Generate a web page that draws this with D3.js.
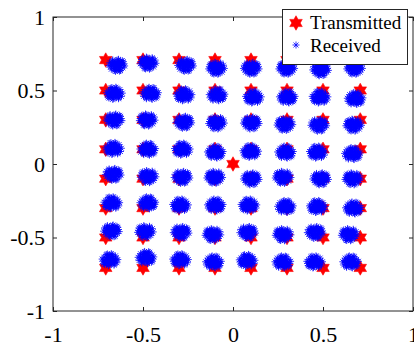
<!DOCTYPE html>
<html>
<head>
<meta charset="utf-8">
<script src="https://cdn.jsdelivr.net/npm/d3@7"></script>
<style>
  html, body { margin: 0; padding: 0; background: #fff; }
  svg { display: block; }
  text { font-family: "Liberation Serif", "Times New Roman", serif; fill: #000; }
</style>
</head>
<body>
<div id="chart"></div>
<script>
// constellation levels (transmitted grid)
const levels = [-0.707, -0.5, -0.3, -0.1, 0.1, 0.3, 0.5, 0.707];
const extraPoint = [0, 0];

// received cluster shift from each transmitted point, rows top->bottom, cols left->right
const clusterShiftX = [
  [0.060, 0.030, 0.035, 0.010, 0.000, 0.000, -0.015, -0.030],
  [0.050, 0.040, 0.030, 0.010, 0.015, 0.000, -0.015, -0.030],
  [0.045, 0.025, 0.025, 0.010, 0.000, -0.010, -0.025, -0.035],
  [0.045, 0.025, 0.020, 0.000, 0.000, -0.010, -0.030, -0.045],
  [0.040, 0.030, 0.015, 0.000, 0.000, -0.020, -0.015, -0.040],
  [0.035, 0.025, 0.010, 0.000, -0.010, -0.010, -0.030, -0.040],
  [0.030, 0.015, 0.010, -0.010, -0.020, -0.020, -0.045, -0.060],
  [0.025, 0.015, 0.010, -0.010, -0.020, -0.025, -0.045, -0.055]
];
const clusterShiftY = [
  [-0.035, -0.020, -0.035, -0.055, -0.055, -0.055, -0.065, -0.055],
  [-0.020, -0.020, -0.030, -0.030, -0.045, -0.045, -0.045, -0.055],
  [0.000, 0.000, -0.015, -0.020, -0.020, -0.030, -0.035, -0.035],
  [0.005, 0.000, 0.000, -0.020, -0.015, -0.020, -0.020, -0.030],
  [0.030, 0.015, 0.010, 0.010, 0.000, 0.010, 0.000, 0.000],
  [0.035, 0.035, 0.020, 0.020, 0.020, 0.010, 0.010, 0.000],
  [0.045, 0.040, 0.035, 0.020, 0.035, 0.020, 0.035, 0.020],
  [0.055, 0.070, 0.055, 0.040, 0.050, 0.040, 0.040, 0.040]
];

// scatter of received samples around a cluster centre
const scatter = [
  [0.000, 0.005], [0.010, -0.010], [-0.012, 0.011], [0.018, 0.003], [-0.005, -0.020],
  [0.024, -0.014], [-0.019, -0.005], [0.006, 0.022], [0.013, 0.016], [-0.008, 0.027],
  [0.030, 0.002], [-0.026, 0.014], [0.003, -0.031], [0.021, 0.025], [-0.014, -0.022],
  [0.035, -0.018], [-0.032, -0.011], [0.008, 0.036], [-0.003, 0.006], [0.014, -0.027],
  [-0.022, 0.029], [0.027, 0.018], [-0.010, -0.036], [0.040, 0.009], [-0.037, 0.020],
  [0.005, -0.011], [-0.016, 0.005], [0.019, -0.002], [0.011, 0.040], [-0.006, -0.042],
  [0.032, 0.031], [-0.029, -0.027], [0.002, 0.016], [0.022, -0.036], [-0.021, 0.036],
  [0.045, -0.005], [-0.042, -0.002], [0.016, -0.040], [-0.027, 0.003], [0.037, 0.024],
  [-0.011, -0.013], [0.026, 0.008]
];

const tickValues = [-1, -0.5, 0, 0.5, 1];
const tickLabels = ['-1', '-0.5', '0', '0.5', '1'];
const legendLabels = ['Transmitted', 'Received'];

const width = 414;
const height = 347;
const margin = { top: 17, right: 1, bottom: 36, left: 53 };

const svg = d3.select('#chart')
  .append('svg')
  .attr('width', width)
  .attr('height', height);

const x = d3.scaleLinear().domain([-1, 1]).range([margin.left, width - margin.right]);
const y = d3.scaleLinear().domain([-1, 1]).range([height - margin.bottom, margin.top]);

// hexagram marker
const hexagram = {
  draw(context, size) {
    const r = Math.sqrt(size) / 2;
    for (let k = 0; k < 12; k++) {
      const a = -Math.PI / 2 + k * Math.PI / 6;
      const rr = k % 2 === 0 ? r : r / Math.sqrt(3);
      if (k === 0) context.moveTo(rr * Math.cos(a), rr * Math.sin(a));
      else context.lineTo(rr * Math.cos(a), rr * Math.sin(a));
    }
    context.closePath();
  }
};
// matlab-like '*' marker
const asterisk = {
  draw(context, size) {
    const r = Math.sqrt(size) / 2;
    const d = r * Math.SQRT1_2;
    context.moveTo(-r, 0); context.lineTo(r, 0);
    context.moveTo(0, -r); context.lineTo(0, r);
    context.moveTo(-d, -d); context.lineTo(d, d);
    context.moveTo(-d, d); context.lineTo(d, -d);
  }
};
const starPath = d3.symbol(hexagram, 210)();
const astPath = d3.symbol(asterisk, 49)();

// data
const transmitted = [];
const received = [];
levels.slice().reverse().forEach((ly, row) => {
  levels.forEach((lx, col) => {
    transmitted.push([lx, ly]);
    const cx = lx + clusterShiftX[row][col];
    const cy = ly + clusterShiftY[row][col];
    const fx = (row + col) % 2 === 0 ? 1 : -1;
    const fy = row % 2 === 0 ? 1 : -1;
    scatter.forEach(s => received.push([cx + fx * s[0], cy + fy * s[1]]));
  });
});
transmitted.push(extraPoint);

// axes box
const axisColor = '#262626';
const plot = svg.append('g');

const axisB = d3.axisBottom(x).tickValues(tickValues).tickSize(-4).tickPadding(15)
  .tickFormat((d, i) => tickLabels[i]);
const axisL = d3.axisLeft(y).tickValues(tickValues).tickSize(-4).tickPadding(8)
  .tickFormat((d, i) => tickLabels[i]);
const axisT = d3.axisTop(x).tickValues(tickValues).tickSize(-4).tickFormat('');
const axisR = d3.axisRight(y).tickValues(tickValues).tickSize(-4).tickFormat('');

function styleAxis(g) {
  g.select('.domain').remove();
  g.selectAll('line').attr('stroke', axisColor);
  g.selectAll('text').attr('font-family', '"Liberation Serif", "Times New Roman", serif')
    .attr('font-size', 22).attr('fill', '#000');
}

plot.append('g').attr('transform', `translate(0,${y(-1)})`).call(axisB).call(styleAxis);
plot.append('g').attr('transform', `translate(${x(-1)},0)`).call(axisL).call(styleAxis);
plot.append('g').attr('transform', `translate(0,${y(1)})`).call(axisT).call(styleAxis);
plot.append('g').attr('transform', `translate(${x(1)},0)`).call(axisR).call(styleAxis);

plot.append('rect')
  .attr('x', x(-1)).attr('y', y(1))
  .attr('width', x(1) - x(-1)).attr('height', y(-1) - y(1))
  .attr('fill', 'none').attr('stroke', axisColor).attr('stroke-width', 1);

// transmitted stars
svg.append('g').selectAll('path')
  .data(transmitted)
  .enter()
  .append('path')
  .attr('d', starPath)
  .attr('transform', d => `translate(${x(d[0])},${y(d[1])})`)
  .attr('fill', '#ff0000')
  .attr('stroke', '#ff0000')
  .attr('stroke-width', 0.6);

// received samples
svg.append('g').selectAll('path')
  .data(received)
  .enter()
  .append('path')
  .attr('d', astPath)
  .attr('transform', d => `translate(${x(d[0])},${y(d[1])})`)
  .attr('fill', 'none')
  .attr('stroke', '#0000ff')
  .attr('stroke-width', 0.8);

// legend
const legend = svg.append('g');
legend.append('rect')
  .attr('x', 282.5).attr('y', 9.5)
  .attr('width', 125).attr('height', 55)
  .attr('fill', '#fff').attr('stroke', axisColor).attr('stroke-width', 1);

legend.append('path')
  .attr('d', starPath)
  .attr('transform', 'translate(296,23)')
  .attr('fill', '#ff0000').attr('stroke', '#ff0000').attr('stroke-width', 0.6);
legend.append('path')
  .attr('d', astPath)
  .attr('transform', 'translate(296,45)')
  .attr('fill', 'none').attr('stroke', '#0000ff').attr('stroke-width', 0.8);

legend.selectAll('text')
  .data(legendLabels)
  .enter()
  .append('text')
  .attr('x', 310)
  .attr('y', (d, i) => 29 + i * 23)
  .attr('font-size', 19)
  .text(d => d);
</script>
</body>
</html>
